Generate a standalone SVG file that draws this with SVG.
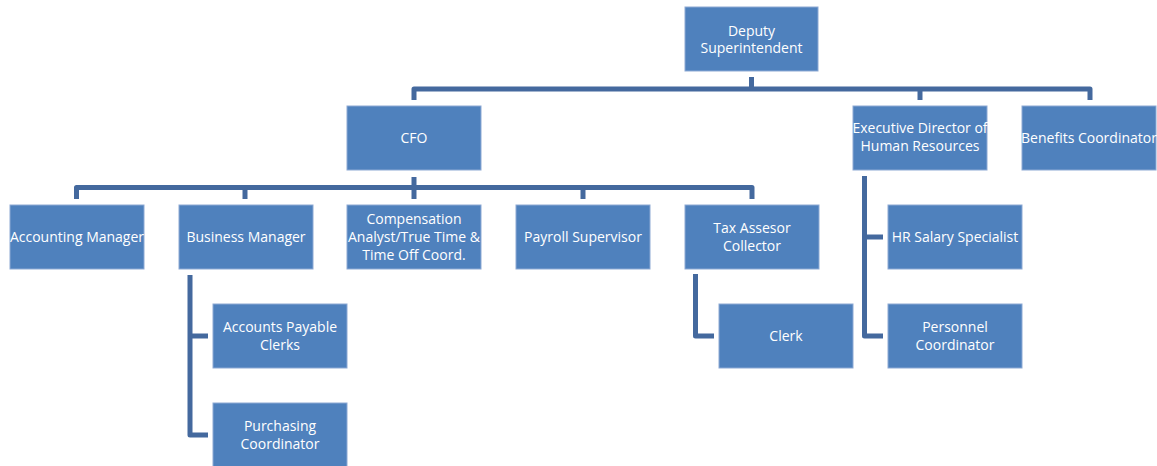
<svg xmlns="http://www.w3.org/2000/svg" width="1157" height="466" viewBox="0 0 1157 466">
<style>
.b{fill:#4F81BD;stroke:#8DA9D4;stroke-width:1}
.t{font-family:"Open Sans","Liberation Sans",sans-serif;font-size:14px;fill:#FFFFFF;text-anchor:middle}
.c{fill:none;stroke:#44699E;stroke-width:5;stroke-linejoin:round;stroke-linecap:butt}
</style>
<rect width="1157" height="466" fill="#FFFFFF"/>
<g id="connectors">
<path class="c" d="M414,100 V89 H1090 V100"/>
<path class="c" d="M751.5,77 V89"/>
<path class="c" d="M920,89 V100"/>
<path class="c" d="M414,177 V199"/>
<path class="c" d="M76.5,199 V187.5 H752 V199"/>
<path class="c" d="M245,187.5 V199"/>
<path class="c" d="M583,187.5 V199"/>
<path class="c" d="M190,275 V435 H208"/>
<path class="c" d="M190,336 H208"/>
<path class="c" d="M695.5,274 V336 H714"/>
<path class="c" d="M864.5,176 V336 H883"/>
<path class="c" d="M864.5,237 H883"/>
</g>
<g id="deputy"><rect class="b" x="685" y="7" width="133" height="64"/><text class="t" x="751.5" y="36">Deputy</text><text class="t" x="751.5" y="53">Superintendent</text></g>
<g id="cfo"><rect class="b" x="347" y="106" width="134" height="64"/><text class="t" x="414" y="143">CFO</text></g>
<g id="exec-hr"><rect class="b" x="853" y="106" width="134" height="64"/><text class="t" x="920" y="133">Executive Director of</text><text class="t" x="920" y="151">Human Resources</text></g>
<g id="benefits"><rect class="b" x="1022" y="106" width="134" height="64"/><text class="t" x="1089" y="143">Benefits Coordinator</text></g>
<g id="accounting"><rect class="b" x="10" y="205" width="134" height="64"/><text class="t" x="77" y="242">Accounting Manager</text></g>
<g id="business"><rect class="b" x="179" y="205" width="134" height="64"/><text class="t" x="246" y="242">Business Manager</text></g>
<g id="compensation"><rect class="b" x="347" y="205" width="134" height="64"/><text class="t" x="414" y="224">Compensation</text><text class="t" x="414" y="242">Analyst/True Time &amp;</text><text class="t" x="414" y="260">Time Off Coord.</text></g>
<g id="payroll"><rect class="b" x="516" y="205" width="134" height="64"/><text class="t" x="583" y="242">Payroll Supervisor</text></g>
<g id="tax"><rect class="b" x="685" y="205" width="134" height="64"/><text class="t" x="752" y="233">Tax Assesor</text><text class="t" x="752" y="251">Collector</text></g>
<g id="hr-salary"><rect class="b" x="888" y="205" width="134" height="64"/><text class="t" x="955" y="242">HR Salary Specialist</text></g>
<g id="ap-clerks"><rect class="b" x="213" y="304" width="134" height="64"/><text class="t" x="280" y="332">Accounts Payable</text><text class="t" x="280" y="350">Clerks</text></g>
<g id="clerk"><rect class="b" x="719" y="304" width="134" height="64"/><text class="t" x="786" y="341">Clerk</text></g>
<g id="personnel"><rect class="b" x="888" y="304" width="134" height="64"/><text class="t" x="955" y="332">Personnel</text><text class="t" x="955" y="350">Coordinator</text></g>
<g id="purchasing"><rect class="b" x="213" y="403" width="134" height="64"/><text class="t" x="280" y="431">Purchasing</text><text class="t" x="280" y="449">Coordinator</text></g>
</svg>
